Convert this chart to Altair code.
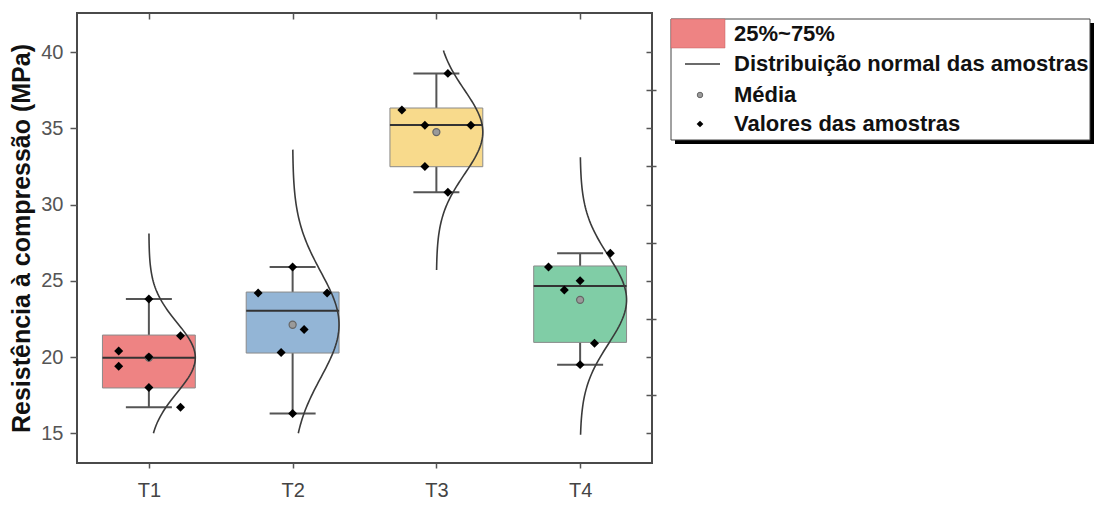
import altair as alt
import pandas as pd

# ---------------- data ----------------
categories = ["T1", "T2", "T3", "T4"]
box_colors = ["#EE8383", "#93B5D6", "#F8DA8C", "#80CDA6"]

samples_t1 = [20.4, 19.4, 23.8, 20.0, 18.0, 21.4, 16.7]
samples_t2 = [24.2, 25.9, 21.8, 20.3, 16.3, 24.2]
samples_t3 = [36.2, 38.6, 35.2, 35.2, 32.5, 30.8]
samples_t4 = [25.9, 26.8, 25.0, 24.4, 20.9, 19.5]
# horizontal spread of sample dots (fraction of category width)
jitter_t1 = [-0.21, -0.21, 0.0, 0.0, 0.0, 0.22, 0.22]
jitter_t2 = [-0.24, 0.0, 0.08, -0.08, 0.0, 0.24]
jitter_t3 = [-0.24, 0.08, -0.08, 0.24, -0.08, 0.08]
jitter_t4 = [-0.22, 0.21, 0.0, -0.11, 0.10, 0.0]

q1 = [17.97, 20.26, 32.48, 20.96]
median = [19.95, 23.04, 35.21, 24.66]
q3 = [21.44, 24.26, 36.33, 25.97]
whisker_lo = [16.7, 16.3, 30.8, 19.5]
whisker_hi = [23.8, 25.9, 38.6, 26.8]

curve_lo = [15.0, 15.0, 25.7, 14.9]
curve_hi = [28.1, 33.6, 40.1, 33.1]

legend_labels = ["25%~75%", "Distribuição normal das amostras", "Média", "Valores das amostras"]
y_title = "Resistência à compressão (MPa)"

# ---------------- tables ----------------
rows = []
for i, (vals, jit) in enumerate([(samples_t1, jitter_t1), (samples_t2, jitter_t2),
                                  (samples_t3, jitter_t3), (samples_t4, jitter_t4)]):
    for v, j in zip(vals, jit):
        rows.append({"cat": categories[i], "pos": i + 1, "val": v, "jit": j})
samples = pd.DataFrame(rows)

boxes = pd.DataFrame({"cat": categories, "pos": [1, 2, 3, 4], "q1": q1, "med": median,
                      "q3": q3, "lo": whisker_lo, "hi": whisker_hi})
ranges = pd.DataFrame({"cat": categories, "clo": curve_lo, "chi": curve_hi})

# ---------------- styling ----------------
W, H = 575, 450
BOX_HALF = 0.323
CAP_HALF = 0.16
YDOM = [13.05, 42.56]
XDOM = [0.5, 4.5]
FONT = "Liberation Sans"

xs = alt.Scale(domain=XDOM, nice=False, zero=False)
ys = alt.Scale(domain=YDOM, nice=False, zero=False)
color = alt.Color("cat:N", scale=alt.Scale(domain=categories, range=box_colors), legend=None)

label_expr = "[" + ",".join(f"'{c}'" for c in categories) + "][datum.value-1]"

x_bottom = alt.Axis(values=[1, 2, 3, 4], labelExpr=label_expr, title=None, grid=False,
                    domain=False, tickSize=5, tickColor="#555", tickWidth=1.5,
                    labelFontSize=20, labelColor="#444", labelPadding=12, labelFont=FONT)
x_top = alt.Axis(orient="top", values=[1, 2, 3, 4], labels=False, title=None, grid=False,
                 domain=False, tickSize=6, offset=-6, tickColor="#555", tickWidth=1.5)
y_major = alt.Axis(values=[15, 20, 25, 30, 35, 40], title=y_title, grid=False, domain=False,
                   tickSize=7, tickColor="#555", tickWidth=1.5, labelFontSize=20,
                   labelColor="#555", labelPadding=7, labelFont=FONT, titleFont=FONT,
                   titleFontSize=25, titleFontWeight="bold", titleColor="#111", titlePadding=6)
y_minor = alt.Axis(values=[17.5, 22.5, 27.5, 32.5, 37.5], labels=False, title=None, grid=False,
                   domain=False, tickSize=4, tickColor="#555", tickWidth=1.5)
y_right = alt.Axis(orient="right", values=[15, 17.5, 20, 22.5, 25, 27.5, 30, 32.5, 35, 37.5, 40],
                   labels=False, title=None, grid=False, domain=False, tickSize=6, offset=-6,
                   tickColor="#555", tickWidth=1.5)

base_box = alt.Chart(boxes).transform_calculate(
    xl=f"datum.pos - {BOX_HALF}", xr=f"datum.pos + {BOX_HALF}",
    cl=f"datum.pos - {CAP_HALF}", cr=f"datum.pos + {CAP_HALF}")

whisker = base_box.mark_rule(color="#555", strokeWidth=2).encode(
    x=alt.X("pos:Q", scale=xs, axis=x_bottom),
    y=alt.Y("lo:Q", scale=ys, axis=y_major), y2="hi:Q")
cap_hi = base_box.mark_rule(color="#555", strokeWidth=2).encode(
    x=alt.X("cl:Q", scale=xs, axis=x_top), x2="cr:Q",
    y=alt.Y("hi:Q", scale=ys, axis=y_minor))
cap_lo = base_box.mark_rule(color="#555", strokeWidth=2).encode(
    x=alt.X("cl:Q", scale=xs, axis=None), x2="cr:Q",
    y=alt.Y("lo:Q", scale=ys, axis=y_right))
box = base_box.mark_rect(stroke="#8a8a8a", strokeWidth=1).encode(
    x=alt.X("xl:Q", scale=xs, axis=None), x2="xr:Q",
    y=alt.Y("q1:Q", scale=ys, axis=None), y2="q3:Q", color=color)
med = base_box.mark_rule(color="#333", strokeWidth=2).encode(
    x=alt.X("xl:Q", scale=xs, axis=None), x2="xr:Q",
    y=alt.Y("med:Q", scale=ys, axis=None))

curve = alt.Chart(samples).transform_aggregate(
    mu="mean(val)", sd="stdev(val)", groupby=["cat", "pos"]
).transform_lookup(
    lookup="cat", from_=alt.LookupData(ranges, "cat", ["clo", "chi"])
).transform_calculate(
    t="sequence(0, 1.0001, 0.01)"
).transform_flatten(["t"]).transform_calculate(
    yv="datum.clo + datum.t * (datum.chi - datum.clo)"
).transform_calculate(
    xv=f"datum.pos + {BOX_HALF} * exp(-pow(datum.yv - datum.mu, 2) / (2 * datum.sd * datum.sd))"
).mark_line(color="#3a3a3a", strokeWidth=1.6).encode(
    x=alt.X("xv:Q", scale=xs, axis=None),
    y=alt.Y("yv:Q", scale=ys, axis=None),
    detail="cat:N", order="yv:Q")

mean_pt = alt.Chart(samples).transform_aggregate(
    mu="mean(val)", groupby=["cat", "pos"]
).mark_point(shape="circle", filled=True, size=50, color="#9a9a9a",
             stroke="#666", strokeWidth=1.2, opacity=1).encode(
    x=alt.X("pos:Q", scale=xs, axis=None),
    y=alt.Y("mu:Q", scale=ys, axis=None))

pts = alt.Chart(samples).transform_calculate(
    xp="datum.pos + datum.jit"
).mark_point(shape="diamond", filled=True, size=80, color="black", opacity=1).encode(
    x=alt.X("xp:Q", scale=xs, axis=None),
    y=alt.Y("val:Q", scale=ys, axis=None))

# ---------------- legend (drawn box at right of the plot) ----------------
one = pd.DataFrame({"k": [0]})
LX0, LX1, LY0, LY1 = 594, 1013, 6, 127
leg = [
    alt.Chart(one).mark_rect(color="black").encode(
        x=alt.value(LX0 + 4), x2=alt.value(LX1 + 4), y=alt.value(LY0 + 4), y2=alt.value(LY1 + 4)),
    alt.Chart(one).mark_rect(fill="white", stroke="#444", strokeWidth=1).encode(
        x=alt.value(LX0), x2=alt.value(LX1), y=alt.value(LY0), y2=alt.value(LY1)),
    alt.Chart(one).mark_rect(fill=box_colors[0], stroke="#c06060", strokeWidth=0.5).encode(
        x=alt.value(LX0), x2=alt.value(648), y=alt.value(LY0), y2=alt.value(35)),
    alt.Chart(one).mark_rule(color="#3a3a3a", strokeWidth=1.6).encode(
        x=alt.value(608), x2=alt.value(643), y=alt.value(51)),
    alt.Chart(one).mark_point(shape="circle", filled=True, size=30, color="#9a9a9a",
                              stroke="#666", strokeWidth=1, opacity=1).encode(
        x=alt.value(623), y=alt.value(82)),
    alt.Chart(one).mark_point(shape="diamond", filled=True, size=45, color="black",
                              opacity=1).encode(x=alt.value(623), y=alt.value(111)),
]
for lab, yy in zip(legend_labels, [21, 51, 82, 111]):
    leg.append(alt.Chart(pd.DataFrame({"t": [lab]})).mark_text(
        align="left", baseline="middle", font=FONT, fontSize=22, fontWeight="bold",
        color="#111").encode(text="t:N", x=alt.value(657), y=alt.value(yy)))

chart = alt.layer(whisker, cap_hi, cap_lo, box, med, curve, mean_pt, pts, *leg).resolve_axis(
    x="independent", y="independent"
).properties(
    width=W, height=H,
    autosize=alt.AutoSizeParams(type="none"),
    padding={"left": 77, "top": 13, "right": 444, "bottom": 46},
).configure(font=FONT, background="white").configure_view(stroke="#4a4a4a", strokeWidth=2)

chart.save("out.html", embed_options={"renderer": "svg", "actions": False})
